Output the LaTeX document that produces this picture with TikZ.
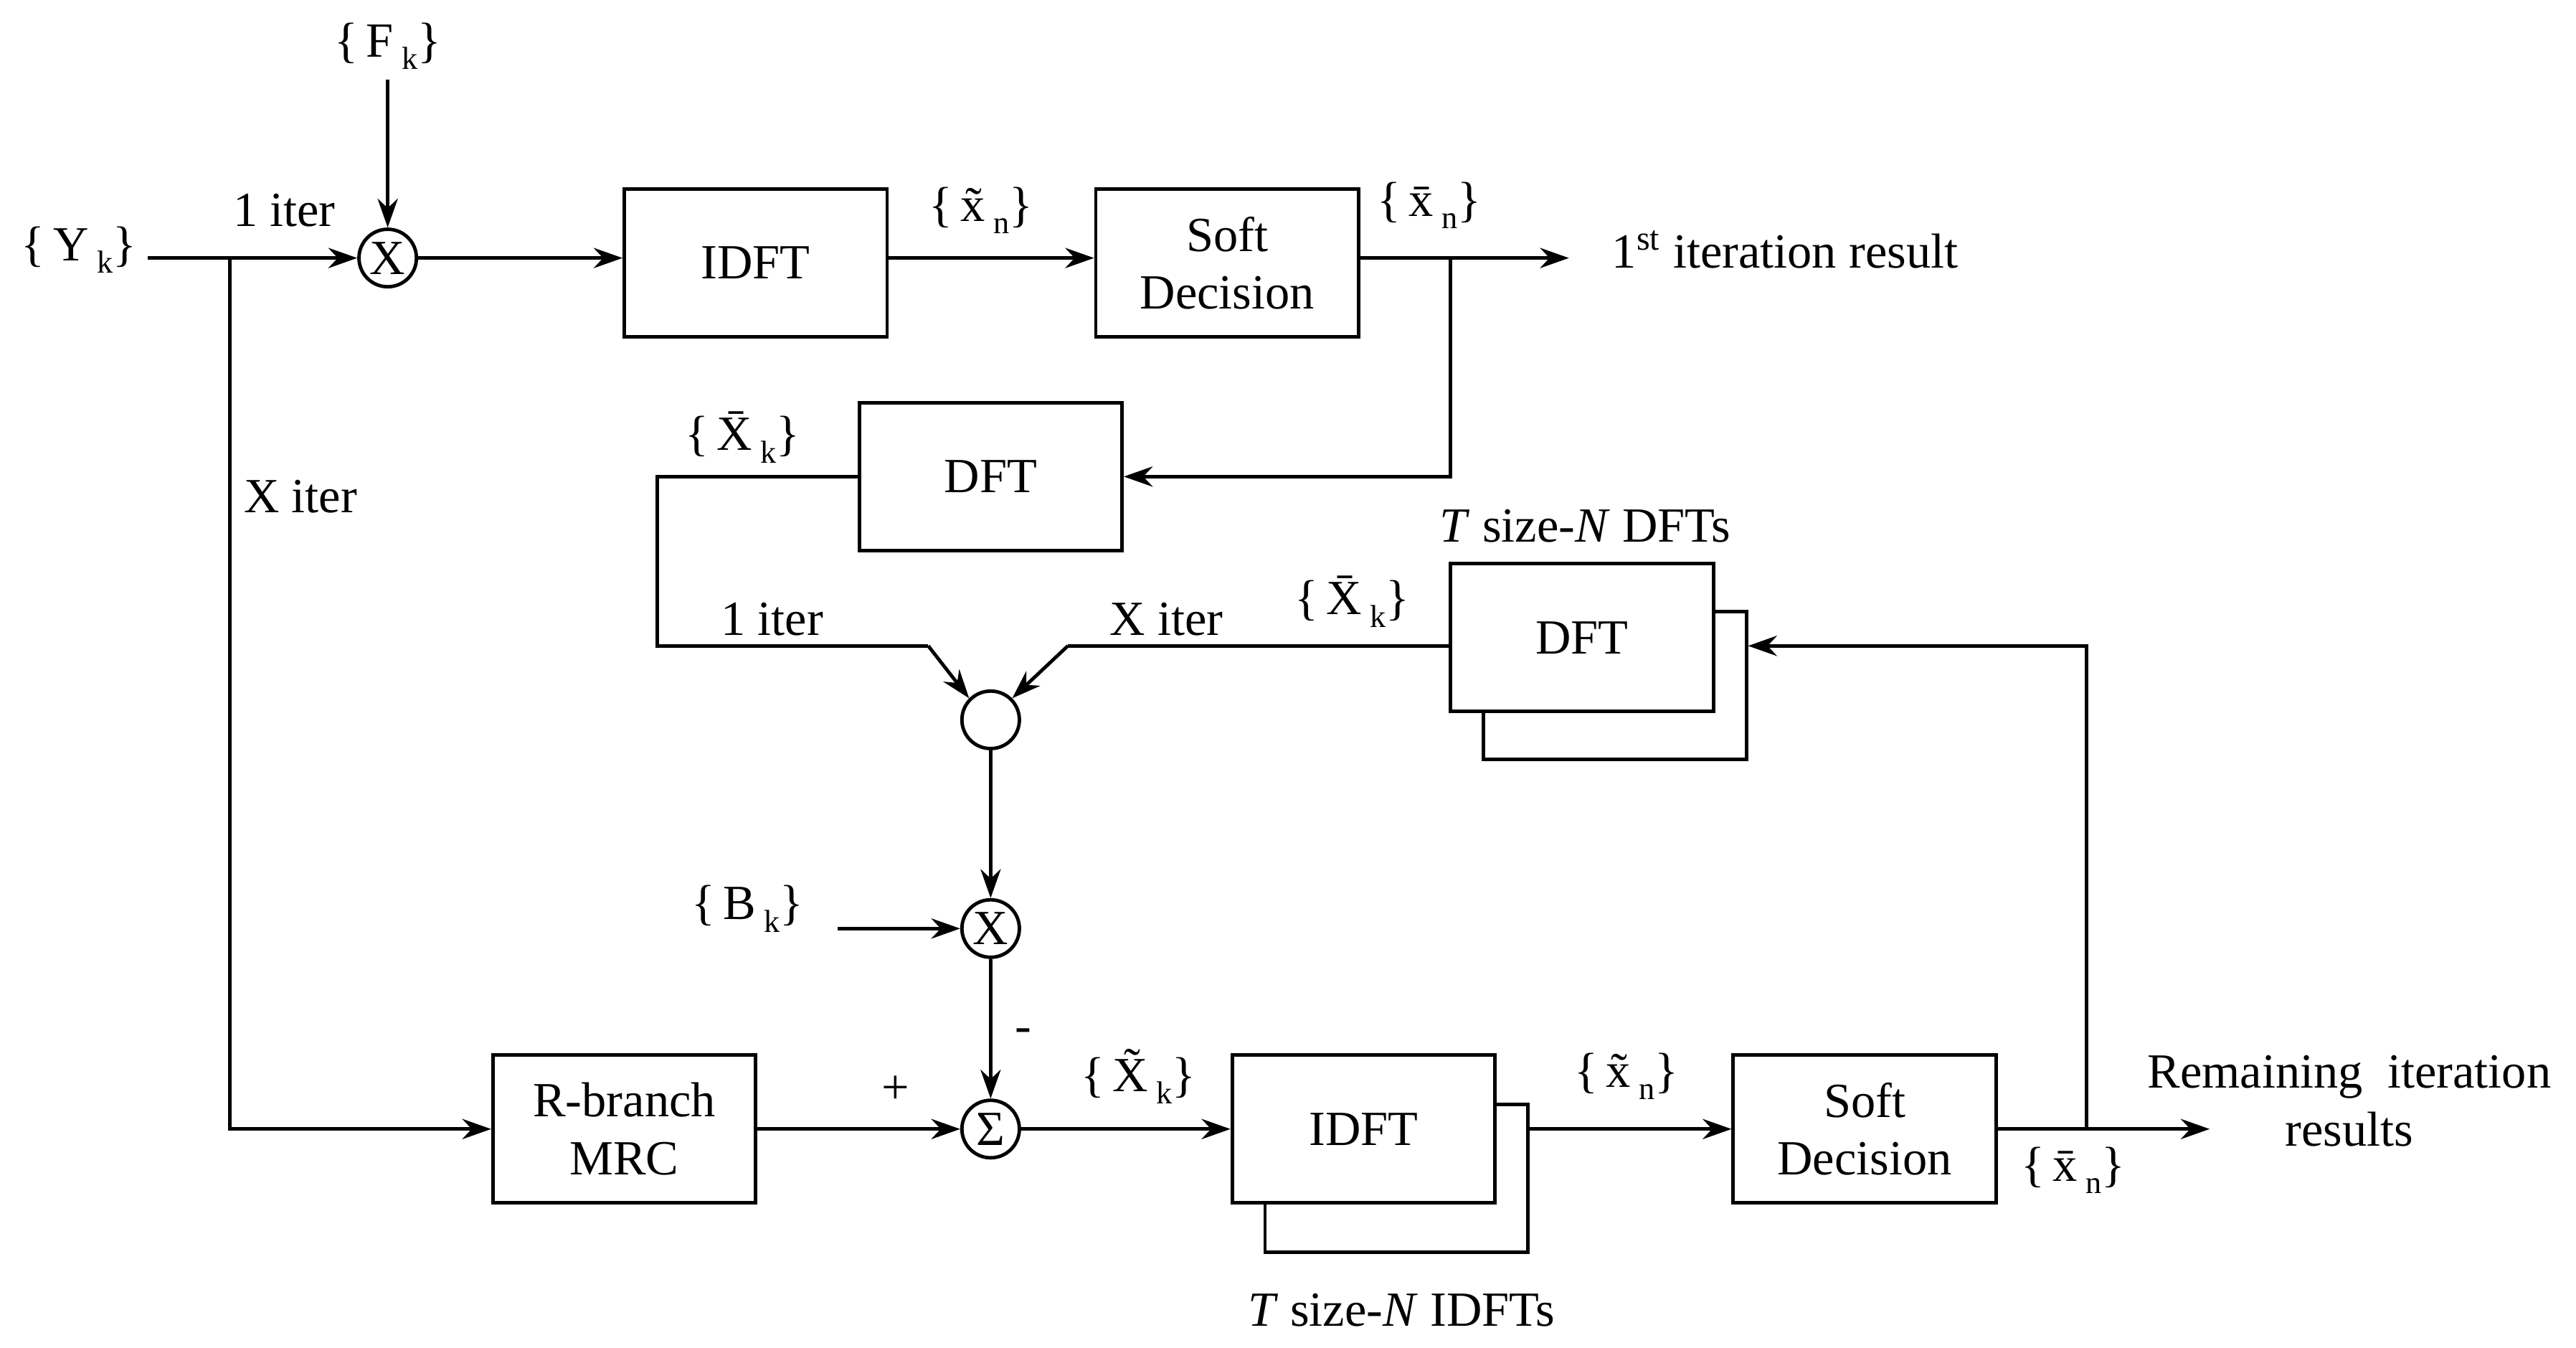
\documentclass[tikz,border=0pt]{standalone}
\usepackage{fontspec}
\setmainfont{Liberation Serif}
\usetikzlibrary{arrows.meta}
\newcommand{\sbk}[1]{\raisebox{-0.55ex}{\fontsize{11}{12}\selectfont #1}}
\begin{document}
\begin{tikzpicture}[x=0.02cm,y=-0.02cm,
  every node/.style={font=\fontsize{17}{20}\selectfont},
  box/.style={draw,line width=1.2pt,minimum width=3.2cm,minimum height=1.8cm,align=center,fill=white,inner sep=0pt},
  circ/.style={draw,line width=1.2pt,circle,minimum size=0.7cm,inner sep=0pt},
  ln/.style={line width=1.2pt},
  ar/.style={line width=1.2pt,-{Stealth[length=10pt,width=7pt]}}]
\useasboundingbox (0,0) rectangle (1568,820);
% nodes
\node (Y) at (48,152) {\{\,Y\,\sbk{k}\}};
\node (F) at (236,28) {\{\,F\,\sbk{k}\}};
\node[circ] (m1) at (236,157) {X};
\node[box] (idft1) at (460,160) {IDFT};
\node[box] (sd1) at (747,160) {Soft\\Decision};
\node[anchor=west] (res1) at (975,152) {1\textsuperscript{st} iteration result};
\node[box] (dft1) at (603,290) {DFT};
\node[box] (dftb) at (983,417) {};
\node[box] (dft2) at (963,388) {DFT};
\node[circ] (yc) at (603,438) {};
\node (B) at (455,553) {\{\,B\,\sbk{k}\}};
\node[circ] (m2) at (603,565) {X};
\node[circ] (sig) at (603,687) {Σ};
\node[box] (mrc) at (380,687) {R-branch\\MRC};
\node[box] (idftb) at (850,717) {};
\node[box] (idft2) at (830,687) {IDFT};
\node[box] (sd2) at (1135,687) {Soft\\Decision};
\node[align=center] (res2) at (1430,670) {Remaining\ \ iteration\\results};
\coordinate (br) at (140,157);
\coordinate (tap) at (883,157);
\coordinate (e1) at (955,157);
\coordinate (fb) at (1270,687);
\coordinate (bst) at (510,565);
\coordinate (l1) at (400,393);
\coordinate (l2) at (565,393);
\coordinate (r2) at (650,393);
% labels
\node at (173,128) {1 iter};
\node at (183,302) {X iter};
\node at (597,128) {\{\,\~{x}\,\sbk{n}\}};
\node at (870,125) {\{\,\={x}\,\sbk{n}\}};
\node at (452,266) {\{\,\={X}\,\sbk{k}\}};
\node at (470,377) {1 iter};
\node at (710,377) {X iter};
\node at (823,366) {\{\,\={X}\,\sbk{k}\}};
\node at (965,320) {\textit{T} size-\textit{N} DFTs};
\node at (623,630) {-};
\node at (545,663) {+};
\node at (693,655) {\{\,\~{X}\,\sbk{k}\}};
\node at (990,655) {\{\,\~{x}\,\sbk{n}\}};
\node at (1262,712) {\{\,\={x}\,\sbk{n}\}};
\node at (853,797) {\textit{T} size-\textit{N} IDFTs};
% connectors
\draw[ar] (90,157) -- (m1);
\draw[ar] (F) -- (m1);
\draw[ar] (m1) -- (m1-|idft1.west);
\draw[ar] (idft1.east|-m1) -- (sd1.west|-m1);
\draw[ar] (sd1.east|-m1) -- (e1);
\draw[ar] (tap) |- (dft1);
\draw[ln] (dft1.west) -| (l1) -- (l2);
\draw[ar] (l2) -- (yc.north west);
\draw[ln] (dft2.west|-r2) -- (r2);
\draw[ar] (r2) -- (yc.north east);
\draw[ar] (yc) -- (m2);
\draw[ar] (bst) -- (m2);
\draw[ar] (m2) -- (sig);
\draw[ar] (br) |- (mrc);
\draw[ar] (mrc) -- (sig);
\draw[ar] (sig) -- (idft2);
\draw[ar] (idftb.east|-idft2.east) -- (sd2);
\draw[ar] (sd2) -- (1345,687);
\draw[ar] (fb) |- (dftb.east|-r2);
\end{tikzpicture}
\end{document}
